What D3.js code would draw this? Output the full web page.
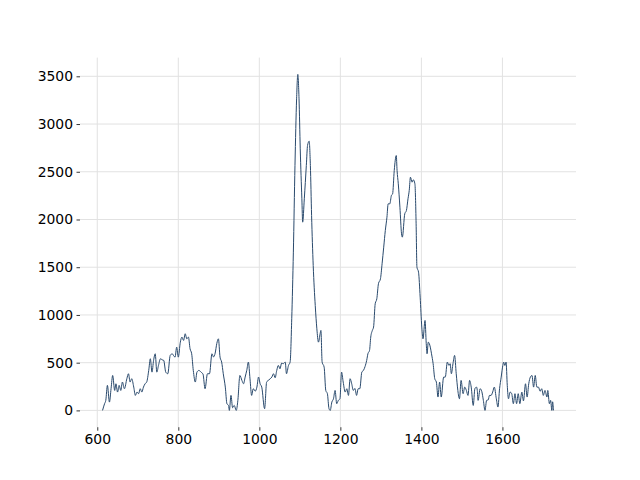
<!DOCTYPE html>
<html>
<head>
<meta charset="utf-8">
<script src="https://cdn.jsdelivr.net/npm/d3@7"></script>
<style>
  body { margin: 0; background: #fff; }
  svg { display: block; }
</style>
</head>
<body>
<div id="chart"></div>
<script>
// spectrum
var wavenumber = [613,618,621,625,630,634,638,643,646,650,654,658,662,667,673,677,681,685,690,694,698,702,706,710,714,718,722,727,731,735,739,743,747,751,756,760,764,769,774,780,785,789,792,796,800,805,809,813,817,821,825,829,833,837,842,846,851,856,861,866,872,877,883,887,891,895,899,903,907,911,916,920,924,926,930,934,938,943,947,952,957,961,965,969,973,977,981,985,990,994,998,1002,1006,1013,1018,1022,1027,1031,1035,1039,1043,1047,1051,1055,1059,1064,1067,1072,1076,1080,1084,1088,1092,1095,1098,1101,1105,1107,1111,1116,1119,1123,1126,1129,1133,1138,1142,1146,1150,1152,1155,1160,1164,1168,1172,1175,1179,1183,1187,1191,1195,1199,1203,1207,1212,1216,1220,1224,1228,1232,1236,1240,1244,1248,1253,1257,1261,1265,1268,1272,1275,1279,1282,1286,1290,1294,1299,1303,1307,1311,1315,1318,1322,1326,1329,1333,1338,1340,1343,1347,1351,1353,1359,1363,1367,1370,1373,1377,1380,1384,1387,1389,1393,1397,1401,1404,1409,1412,1414,1417,1422,1425,1429,1433,1437,1441,1445,1449,1455,1459,1464,1468,1471,1474,1478,1482,1486,1490,1494,1498,1503,1507,1511,1515,1519,1523,1528,1532,1536,1538,1540,1545,1549,1553,1557,1561,1565,1568,1572,1576,1580,1585,1589,1593,1597,1601,1603,1606,1609,1612,1615,1619,1623,1627,1631,1635,1639,1643,1648,1652,1657,1661,1665,1669,1673,1677,1681,1685,1689,1693,1697,1701,1705,1710,1712,1716,1719,1722,1724,1726];
var intensity = [0,70,105,262,87,227,366,209,279,192,262,209,297,227,332,384,297,332,244,157,192,175,227,192,244,279,297,419,541,401,524,593,401,470,541,530,524,401,384,576,593,570,558,663,558,715,768,733,803,750,768,646,593,419,297,401,419,401,380,227,384,384,593,560,600,700,750,558,506,384,244,70,52,0,157,28,52,0,105,366,314,279,349,420,506,330,157,227,202,244,349,279,244,18,297,314,332,350,384,342,419,471,436,495,489,506,384,471,506,960,1658,2565,3264,3520,3264,2740,2217,1972,2217,2565,2775,2820,2565,2042,1518,1099,855,715,803,838,506,453,209,175,18,0,87,122,209,70,105,122,401,297,192,227,157,332,279,209,230,157,227,227,401,419,460,524,593,628,768,838,873,1117,1170,1327,1379,1536,1710,1885,2024,2164,2164,2251,2269,2513,2670,2513,2374,2129,1850,1815,2060,2094,2217,2304,2443,2391,2416,2374,1955,1501,1448,1187,873,750,942,700,593,715,663,593,489,332,297,140,297,140,349,349,506,471,490,384,489,576,384,209,122,314,175,244,210,157,314,244,52,227,244,210,105,227,200,105,0,105,110,157,157,192,244,122,35,227,349,471,506,471,506,262,122,192,175,70,175,70,175,70,192,100,279,140,279,349,366,244,366,244,244,200,227,157,209,140,209,70,105,0,90,0];
var xTicks = [600, 800, 1000, 1200, 1400, 1600];
var yTicks = [0, 500, 1000, 1500, 2000, 2500, 3000, 3500];

var width = 640;
var height = 480;
var margin = {left: 80, top: 57.6, right: 64, bottom: 52.8};
var w = width - margin.left - margin.right;
var h = height - margin.top - margin.bottom;

var points = wavenumber.map(function (d, i) { return {x: d, y: intensity[i]}; });

// matplotlib-style 5% padding
var xExt = d3.extent(wavenumber);
var yExt = d3.extent(intensity);
var xPad = (xExt[1] - xExt[0]) * 0.05;
var yPad = (yExt[1] - yExt[0]) * 0.05;

var x = d3.scaleLinear().domain([xExt[0] - xPad, xExt[1] + xPad]).range([0, w]);
var y = d3.scaleLinear().domain([yExt[0] - yPad, yExt[1] + yPad]).range([h, 0]);

var svg = d3.select('#chart')
  .append('svg')
  .attr('width', width)
  .attr('height', height);

var g = svg.append('g')
  .attr('transform', 'translate(' + margin.left + ',' + margin.top + ')');

// grid
g.append('g')
  .selectAll('line')
  .data(xTicks)
  .enter()
  .append('line')
  .attr('x1', function (d) { return x(d); })
  .attr('x2', function (d) { return x(d); })
  .attr('y1', 0)
  .attr('y2', h)
  .attr('stroke', '#e2e2e2')
  .attr('stroke-width', 1);

g.append('g')
  .selectAll('line')
  .data(yTicks)
  .enter()
  .append('line')
  .attr('x1', 0)
  .attr('x2', w)
  .attr('y1', function (d) { return y(d); })
  .attr('y2', function (d) { return y(d); })
  .attr('stroke', '#e2e2e2')
  .attr('stroke-width', 1);

// axes, no spines
var xAxis = g.append('g')
  .attr('transform', 'translate(0,' + h + ')')
  .call(d3.axisBottom(x).tickValues(xTicks).tickSize(3.5).tickPadding(3.5).tickFormat(d3.format('d')));

var yAxis = g.append('g')
  .call(d3.axisLeft(y).tickValues(yTicks).tickSize(3.5).tickPadding(3.5).tickFormat(d3.format('d')));

[xAxis, yAxis].forEach(function (a) {
  a.select('.domain').remove();
  a.selectAll('line').attr('stroke', '#000').attr('stroke-width', 0.8);
  a.selectAll('text')
    .attr('fill', '#000')
    .style('font-family', '"DejaVu Sans", sans-serif')
    .style('font-size', '13.9px');
});

// spectrum line
var line = d3.line()
  .curve(d3.curveMonotoneX)
  .x(function (d) { return x(d.x); })
  .y(function (d) { return y(d.y); });

g.append('path')
  .datum(points)
  .attr('fill', 'none')
  .attr('stroke', '#2a4a6d')
  .attr('stroke-width', 1)
  .attr('stroke-linejoin', 'round')
  .attr('d', line);
</script>
</body>
</html>
